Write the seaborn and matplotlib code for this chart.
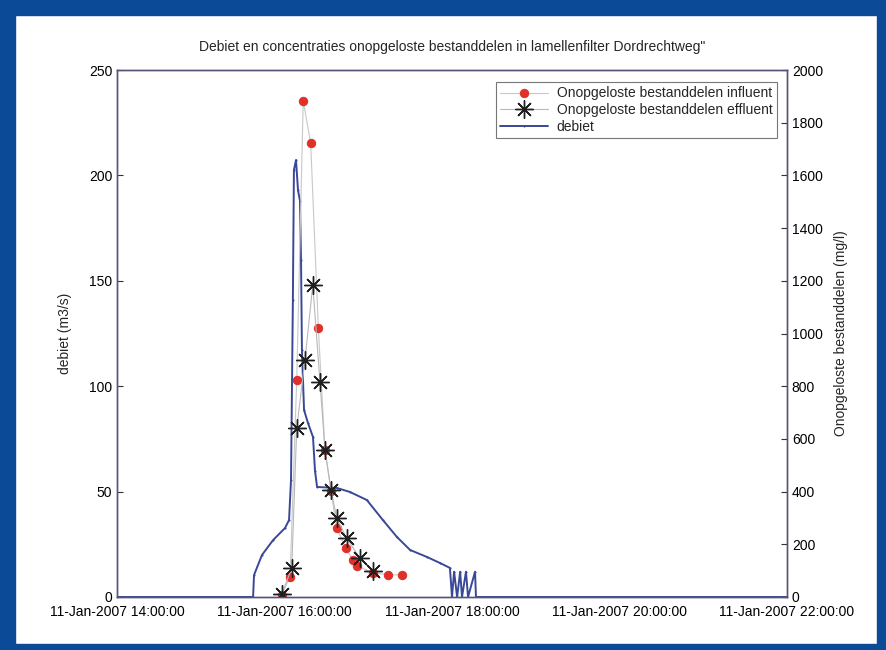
import matplotlib
matplotlib.use("Agg")
import matplotlib.pyplot as plt
import matplotlib.dates as mdates
from matplotlib.patches import Rectangle
import pandas as pd
import seaborn as sns

DAY = "2007-01-11 "

flow_time = ["14:00:00", "15:37:30", "15:38:10", "15:43:50", "15:51:50", "16:00:20",
             "16:03:15", "16:04:40", "16:06:00", "16:06:45", "16:08:15", "16:09:40",
             "16:11:05", "16:11:50", "16:12:30", "16:14:00", "16:16:50", "16:20:25",
             "16:21:50", "16:23:20", "16:37:40", "16:47:00", "16:59:00", "17:10:30",
             "17:20:30", "17:30:00", "17:42:00", "17:51:30", "17:58:30", "18:00:00",
             "18:01:30", "18:03:40", "18:05:50", "18:07:10", "18:10:00", "18:11:30",
             "18:16:30", "18:17:10", "22:00:00"]
flow_value = [0, 0, 10.4, 19.9, 27.0, 32.7,
              36.5, 55.5, 141, 202.6, 207.3, 193,
              188, 160, 117, 88.7, 82.5, 75.9,
              60, 52.2, 51.7, 49.8, 46, 36.5,
              28.5, 22.3, 19, 16.1, 13.8, 0,
              12, 0, 12, 0, 12, 0,
              12, 0, 0]

infl_time = ["15:58:00", "16:04:00", "16:08:45", "16:13:25", "16:18:45", "16:24:15",
             "16:29:00", "16:33:20", "16:37:25", "16:44:00", "16:49:05", "16:51:45",
             "17:03:25", "17:14:20", "17:23:55"]
infl_value = [8, 77, 823, 1883, 1723, 1020,
              558, 402, 261, 185, 140, 118,
              92, 84, 84]

effl_time = ["15:58:00", "16:05:10", "16:08:45", "16:14:40", "16:20:15", "16:25:25",
             "16:29:00", "16:33:20", "16:37:25", "16:44:35", "16:54:05", "17:03:35"]
effl_value = [11, 109, 640, 899, 1184, 817,
              558, 406, 299, 223, 147, 97]

title = "Debiet en concentraties onopgeloste bestanddelen in lamellenfilter Dordrechtweg\""
ylabel_left = "debiet (m3/s)"
ylabel_right = "Onopgeloste bestanddelen (mg/l)"
labels = ["Onopgeloste bestanddelen influent", "Onopgeloste bestanddelen effluent", "debiet"]

df_flow = pd.DataFrame({"t": pd.to_datetime([DAY + t for t in flow_time]), "v": flow_value})
df_in = pd.DataFrame({"t": pd.to_datetime([DAY + t for t in infl_time]), "v": infl_value})
df_ef = pd.DataFrame({"t": pd.to_datetime([DAY + t for t in effl_time]), "v": effl_value})

sns.set_style("white")
plt.rcParams["font.family"] = ["Liberation Sans", "DejaVu Sans"]
plt.rcParams["font.size"] = 10

fig = plt.figure(figsize=(8.86, 6.5), dpi=100)
ax = fig.add_axes([117 / 886, 1 - 597 / 650, (787 - 117) / 886, (597 - 70) / 650])
ax2 = ax.twinx()

# blue frame
blue = "#0b4a97"
fig.patches.append(Rectangle((0, 0), 1, 6 / 650, transform=fig.transFigure, color=blue, zorder=-1))
fig.patches.append(Rectangle((0, 1 - 15 / 650), 1, 15 / 650, transform=fig.transFigure, color=blue, zorder=-1))
fig.patches.append(Rectangle((0, 0), 15 / 886, 1, transform=fig.transFigure, color=blue, zorder=-1))
fig.patches.append(Rectangle((1 - 9 / 886, 0), 9 / 886, 1, transform=fig.transFigure, color=blue, zorder=-1))

sns.lineplot(data=df_flow, x="t", y="v", ax=ax, color="#3b4898", lw=1.4, marker=".",
             markersize=3, markeredgewidth=0, sort=False, estimator=None, label=labels[2], legend=False)
sns.lineplot(data=df_in, x="t", y="v", ax=ax2, color="#c8c8c8", lw=0.8, marker="o",
             markersize=6, markerfacecolor="#e0302a", markeredgecolor="#e0302a",
             sort=False, estimator=None, label=labels[0], legend=False)
sns.lineplot(data=df_ef, x="t", y="v", ax=ax2, color="#b8b8b8", lw=0.8, marker=(8, 2, 0),
             markersize=13, markeredgecolor="#202020", markeredgewidth=1.0,
             sort=False, estimator=None, label=labels[1], legend=False)

ax.set_xlim(pd.Timestamp(DAY + "14:00:00"), pd.Timestamp(DAY + "22:00:00"))
ax.set_ylim(0, 250)
ax2.set_ylim(0, 2000)
ax.set_yticks(range(0, 251, 50))
ax2.set_yticks(range(0, 2001, 200))
ax.xaxis.set_major_locator(mdates.HourLocator(byhour=[14, 16, 18, 20, 22]))
ax.xaxis.set_major_formatter(mdates.DateFormatter("%d-%b-%Y %H:%M:%S"))

for a in (ax, ax2):
    a.tick_params(direction="in", length=4, width=0.8, colors="#333333", labelcolor="black", labelsize=10)
    for s in a.spines.values():
        s.set_color("#555577")
        s.set_linewidth(1.0)
ax.tick_params(axis="x", pad=6)
ax.set_xlabel("")
ax.set_ylabel(ylabel_left, labelpad=12)
ax2.set_ylabel(ylabel_right, labelpad=8)
ax.set_title(title, fontsize=10, pad=14)

h1, l1 = ax2.get_legend_handles_labels()
h2, l2 = ax.get_legend_handles_labels()
leg = ax2.legend(h1 + h2, l1 + l2, loc="upper right", bbox_to_anchor=(0.995, 0.99),
                 fontsize=10, frameon=True, fancybox=False, handlelength=3.5,
                 borderpad=0.3, labelspacing=0.2, handletextpad=0.6)
leg.get_frame().set_edgecolor("#555555")
leg.get_frame().set_linewidth(0.8)

fig.savefig("out.png", dpi=100)
